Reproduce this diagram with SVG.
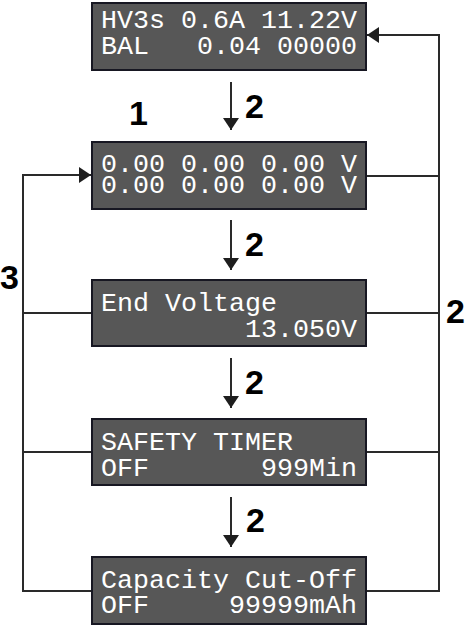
<svg xmlns="http://www.w3.org/2000/svg" width="468" height="627" viewBox="0 0 468 627">
<defs>
<style>
.box{fill:#575757;stroke:#171722;stroke-width:2}
.lcd{fill:#ffffff;font-family:"Liberation Mono","DejaVu Sans Mono",monospace;font-size:26.67px}
.lbl{fill:#000;font-family:"Liberation Sans",Arial,sans-serif;font-weight:bold;font-size:34px}
.ln{fill:none;stroke:#2a2a2a;stroke-width:2}
</style>
<marker id="ah" viewBox="0 0 12 16" refX="12" refY="8" markerWidth="12" markerHeight="16" markerUnits="userSpaceOnUse" orient="auto">
<path d="M0,0 L12,8 L0,16 Z" fill="#1e1e1e"/>
</marker>
</defs>
<rect width="468" height="627" fill="#ffffff"/>
<g id="connectors">
<line class="ln" x1="231" y1="82" x2="231" y2="130" marker-end="url(#ah)"/>
<line class="ln" x1="231" y1="220" x2="231" y2="270" marker-end="url(#ah)"/>
<line class="ln" x1="231" y1="358" x2="231" y2="408" marker-end="url(#ah)"/>
<line class="ln" x1="231" y1="497" x2="231" y2="547" marker-end="url(#ah)"/>
<polyline class="ln" points="366,591 439,591 439,35 367,35" marker-end="url(#ah)"/>
<line class="ln" x1="366" y1="176" x2="439" y2="176"/>
<line class="ln" x1="366" y1="313" x2="439" y2="313"/>
<line class="ln" x1="366" y1="452" x2="439" y2="452"/>
<polyline class="ln" points="92,591 23,591 23,175 91,175" marker-end="url(#ah)"/>
<line class="ln" x1="23" y1="313" x2="92" y2="313"/>
<line class="ln" x1="23" y1="452" x2="92" y2="452"/>
<text class="lbl" x="245" y="118">2</text>
<text class="lbl" x="245" y="256">2</text>
<text class="lbl" x="245" y="394">2</text>
<text class="lbl" x="246" y="532">2</text>
<text class="lbl" x="446" y="323">2</text>
<text class="lbl" x="129" y="125">1</text>
<text class="lbl" x="0" y="289">3</text>
</g>
<g id="node1">
<rect class="box" x="92" y="3" width="274" height="67"/>
<text class="lcd" x="101" y="28" xml:space="preserve">HV3s 0.6A 11.22V</text>
<text class="lcd" x="101" y="54" xml:space="preserve">BAL   0.04 00000</text>
</g>
<g id="node2">
<rect class="box" x="92" y="142" width="274" height="67"/>
<text class="lcd" x="101" y="172" xml:space="preserve">0.00 0.00 0.00 V</text>
<text class="lcd" x="101" y="193" xml:space="preserve">0.00 0.00 0.00 V</text>
</g>
<g id="node3">
<rect class="box" x="92" y="280" width="274" height="66"/>
<text class="lcd" x="101" y="311" xml:space="preserve">End Voltage</text>
<text class="lcd" x="357" y="337" text-anchor="end" xml:space="preserve">13.050V</text>
</g>
<g id="node4">
<rect class="box" x="92" y="419" width="274" height="66"/>
<text class="lcd" x="101" y="450" xml:space="preserve">SAFETY TIMER</text>
<text class="lcd" x="101" y="476" xml:space="preserve">OFF</text>
<text class="lcd" x="357" y="476" text-anchor="end" xml:space="preserve">999Min</text>
</g>
<g id="node5">
<rect class="box" x="92" y="557" width="274" height="67"/>
<text class="lcd" x="101" y="588" xml:space="preserve">Capacity Cut-Off</text>
<text class="lcd" x="101" y="613" xml:space="preserve">OFF</text>
<text class="lcd" x="357" y="613" text-anchor="end" xml:space="preserve">99999mAh</text>
</g>
</svg>
